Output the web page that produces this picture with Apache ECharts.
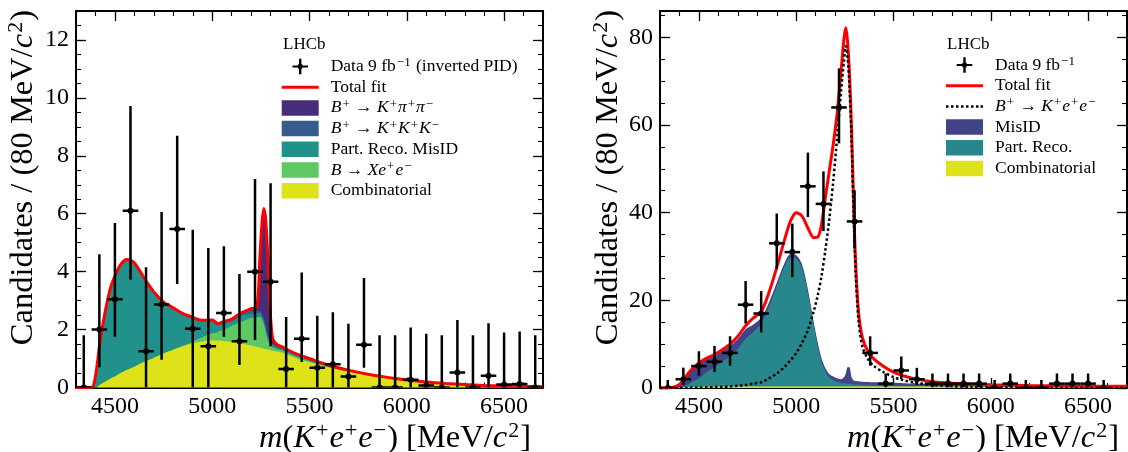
<!DOCTYPE html>
<html>
<head>
<meta charset="utf-8">
<script src="https://cdn.jsdelivr.net/npm/echarts@6.0.0/dist/echarts.min.js"></script>
<style>
  html, body { margin: 0; padding: 0; background: #fff; }
  #chart { width: 1128px; height: 452px; }
</style>
</head>
<body>
<div id="chart"></div>
<script>
// B+ -> K+ e+ e- mass fits, inverted PID (left) and signal sample (right)

var FONT = "'Liberation Serif', 'DejaVu Serif', serif";

// data points, 80 MeV bins
var binCenters = [4340, 4420, 4500, 4580, 4660, 4740, 4820, 4900, 4980, 5060, 5140, 5220, 5300, 5380, 5460,
                  5540, 5620, 5700, 5780, 5860, 5940, 6020, 6100, 6180, 6260, 6340, 6420, 6500, 6580, 6660];
var binWidth = 80;

// left: inverted PID sample
var dataL = [0, 2.0, 3.05, 6.1, 1.25, 2.87, 5.47, 2.03, 1.42, 2.57, 1.6, 4.0, 3.65, 0.64, 1.68,
             0.68, 0.8, 0.38, 1.48, 0, 0, 0.27, 0.07, 0, 0.52, 0, 0.41, 0.1, 0.12, 0];
var hiL = [1.8, 4.6, 5.68, 9.72, 4.15, 6.06, 8.69, 5.45, 4.82, 4.88, 3.92, 7.2, 7.05, 2.43, 3.97,
           2.48, 2.6, 2.2, 3.78, 1.8, 1.8, 2.07, 1.86, 1.8, 2.33, 1.8, 2.22, 1.9, 1.93, 1.8];
var loL = [0, 0.7, 1.75, 3.72, 0, 0.96, 3.57, 0, 0, 1.75, 0.78, 1.64, 1.42, 0, 0.88,
           0, 0, 0, 0.68, 0, 0, 0, 0, 0, 0, 0, 0, 0, 0, 0];

// left: fit components
var massL = [4300, 4380, 4400, 4420, 4440, 4460, 4480, 4500, 4530, 4560, 4600, 4650, 4700, 4750, 4800, 4850,
             4900, 4950, 5000, 5030, 5060, 5100, 5150, 5200, 5230, 5245, 5255, 5265, 5275, 5285, 5295, 5310,
             5330, 5360, 5400, 5450, 5500, 5600, 5700, 5800, 5900, 6000, 6100, 6200, 6300, 6400, 6500, 6600, 6700];
var totalL = [0, 0, 0.4, 1.4, 2.25, 2.95, 3.5, 3.85, 4.25, 4.42, 4.3, 3.78, 3.3, 2.95, 2.75, 2.55,
              2.42, 2.32, 2.33, 2.2, 2.28, 2.36, 2.58, 2.72, 2.8, 4.5, 5.6, 6.18, 5.8, 4.6, 3.0, 1.7,
              1.5, 1.4, 1.26, 1.12, 1.0, 0.77, 0.6, 0.46, 0.35, 0.26, 0.19, 0.14, 0.1, 0.07, 0.05, 0.035, 0.025];
var combL = [0, 0, 0, 0.08, 0.16, 0.24, 0.32, 0.38, 0.5, 0.6, 0.72, 0.88, 1.02, 1.17, 1.3, 1.43,
             1.53, 1.59, 1.62, 1.62, 1.6, 1.58, 1.52, 1.45, 1.4, 1.38, 1.36, 1.34, 1.33, 1.31, 1.3, 1.27,
             1.24, 1.2, 1.09, 0.97, 0.87, 0.68, 0.54, 0.42, 0.33, 0.25, 0.18, 0.13, 0.095, 0.065, 0.047, 0.033, 0.023];
var xeeL = [0, 0, 0, 0, 0, 0, 0, 0, 0, 0, 0, 0, 0, 0, 0, 0,
            0.05, 0.15, 0.25, 0.3, 0.4, 0.55, 0.75, 0.95, 1.02, 1.05, 1.0, 0.85, 0.6, 0.35, 0.2, 0.12,
            0.09, 0.07, 0.06, 0.05, 0.04, 0.03, 0.02, 0.015, 0.01, 0.005, 0, 0, 0, 0, 0, 0, 0];
var prMisIdL = [0, 0, 0.4, 1.32, 2.09, 2.71, 3.18, 3.47, 3.75, 3.82, 3.58, 2.9, 2.28, 1.78, 1.45, 1.12,
                0.84, 0.57, 0.43, 0.24, 0.22, 0.15, 0.21, 0.15, 0.14, 0.13, 0.13, 0.12, 0.11, 0.1, 0.09, 0.08,
                0.07, 0.06, 0.05, 0.04, 0.03, 0.02, 0.015, 0.01, 0.005, 0, 0, 0, 0, 0, 0, 0, 0];
var kkkL = [0, 0, 0, 0, 0, 0, 0, 0, 0, 0, 0, 0, 0, 0, 0, 0,
            0, 0.01, 0.03, 0.04, 0.06, 0.08, 0.1, 0.11, 0.1, 0.08, 0.08, 0.08, 0.08, 0.08, 0.07, 0.05,
            0.05, 0.04, 0.04, 0.04, 0.03, 0.02, 0.015, 0.01, 0.005, 0, 0, 0, 0, 0, 0, 0, 0];
var kpipiL = [0, 0, 0, 0, 0, 0, 0, 0, 0, 0, 0, 0, 0, 0, 0, 0,
              0, 0, 0, 0, 0, 0, 0, 0.06, 0.14, 1.86, 3.03, 3.79, 3.68, 2.76, 1.34, 0.18,
              0.05, 0.03, 0.02, 0.02, 0.02, 0.01, 0.01, 0.005, 0, 0, 0, 0, 0, 0, 0, 0, 0];

// right: signal sample
var dataR = [0, 2, 5, 6, 8, 19, 17, 33, 31, 46, 42, 64, 38, 8, 1,
             4, 2, 1, 1, 1, 1, 0, 1, 0, 0, 1, 1, 1, 0, 0];
var hiR = [1.84, 4.64, 8.38, 9.58, 11.8, 24.4, 22.1, 39.8, 37.5, 53.7, 49.4, 72.9, 45.1, 11.8, 3.3,
           7.2, 4.6, 3.3, 3.3, 3.3, 3.3, 1.84, 3.3, 1.84, 1.84, 3.3, 3.3, 3.3, 1.84, 0];
var loR = [0, 0.71, 2.84, 3.62, 5.1, 14.7, 12.7, 27.2, 25.3, 39.0, 35.8, 55.8, 31.8, 5.1, 0.17,
           2.0, 0.71, 0.17, 0.17, 0.17, 0.17, 0, 0.17, 0, 0, 0.17, 0.17, 0.17, 0, 0];

var massR = [4300, 4360, 4400, 4420, 4460, 4500, 4540, 4580, 4620, 4660, 4700, 4740, 4780, 4820, 4860, 4900,
             4940, 4970, 5000, 5030, 5060, 5090, 5110, 5130, 5150, 5170, 5190, 5210, 5230, 5245, 5255, 5265,
             5275, 5285, 5295, 5305, 5320, 5340, 5370, 5400, 5450, 5500, 5550, 5600, 5700, 5800, 5900, 6000,
             6200, 6400, 6600, 6700];
var totalR = [0, 0.1, 0.8, 1.9, 4.1, 5.7, 6.8, 7.6, 8.7, 10.0, 11.8, 14.2, 16.0, 17.4, 21.8, 27.5,
              33.8, 38.0, 40.0, 39.2, 36.5, 34.3, 34.4, 37.3, 43.5, 49.5, 55.5, 62.5, 72.0, 79.5, 82.2, 78.5,
              70.5, 58.3, 42.0, 29.0, 17.5, 11.5, 8.2, 6.6, 4.9, 3.6, 2.8, 2.2, 1.45, 1.1, 0.9, 0.75,
              0.55, 0.45, 0.4, 0.4];
var signalR = [0, 0, 0, 0, 0.05, 0.1, 0.15, 0.2, 0.25, 0.35, 0.5, 0.7, 1.0, 1.3, 2.2, 3.3,
               4.8, 6.3, 8.0, 10.3, 13.2, 17.5, 21.0, 25.5, 31.5, 38.5, 47.0, 57.0, 67.5, 74.5, 78.0, 75.0,
               67.5, 56.0, 40.0, 27.0, 15.5, 9.5, 6.5, 5.0, 3.6, 2.5, 1.8, 1.3, 0.7, 0.4, 0.25, 0.15,
               0.07, 0.03, 0.01, 0];
var combR = [0, 0, 0.1, 0.2, 0.25, 0.3, 0.32, 0.33, 0.34, 0.35, 0.35, 0.35, 0.35, 0.35, 0.35, 0.35,
             0.35, 0.35, 0.36, 0.36, 0.36, 0.36, 0.36, 0.37, 0.37, 0.37, 0.37, 0.37, 0.37, 0.37, 0.37, 0.37,
             0.37, 0.37, 0.37, 0.37, 0.37, 0.37, 0.37, 0.37, 0.37, 0.37, 0.36, 0.36, 0.35, 0.34, 0.33, 0.32,
             0.3, 0.28, 0.26, 0.25];
var partRecoR = [0, 0, 0, 0.1, 0.95, 1.9, 3.28, 4.47, 5.66, 6.95, 8.55, 10.95, 12.45, 14.35, 18.15, 22.8,
                 27.35, 29.35, 29.14, 27.04, 21.34, 13.84, 9.34, 5.63, 3.33, 2.03, 1.43, 1.03, 0.78, 0.7, 0.65, 0.6,
                 0.55, 0.5, 0.45, 0.4, 0.35, 0.3, 0.25, 0.2, 0.15, 0.1, 0.08, 0.06, 0.04, 0.03, 0.02, 0.01,
                 0, 0, 0, 0];
var misIdR = [0, 0.1, 0.7, 1.6, 2.8, 3.3, 3.0, 2.6, 2.4, 2.3, 2.3, 2.1, 1.7, 1.3, 1.0, 0.85,
              0.8, 0.8, 0.8, 0.8, 0.8, 0.8, 0.8, 0.8, 0.8, 0.8, 0.8, 0.8, 0.85, 1.3, 2.3, 3.8,
              3.7, 1.5, 0.9, 0.8, 0.8, 0.78, 0.76, 0.74, 0.72, 0.7, 0.66, 0.6, 0.52, 0.43, 0.35, 0.28,
              0.18, 0.12, 0.09, 0.08];

// axis ticks
var xMajor = [4500, 5000, 5500, 6000, 6500];
var yMajorL = [0, 2, 4, 6, 8, 10, 12];
var yMajorR = [0, 20, 40, 60, 80];

var colors = {
    red: '#ff0000',
    kpipi: '#472c7a',
    kkk: '#365c8d',
    prMisId: '#21918c',
    xee: '#5ec962',
    comb: '#dde318',
    misId: '#414487',
    partReco: '#28878c'
};

var legendText = {
    L_data: 'Data 9 fb{s|−1} (inverted PID)',
    L_total: 'Total fit',
    L_kpipi: '{i|B}{s|+} → {i|K}{s|+}{i|π}{s|+}{i|π}{s|−}',
    L_kkk: '{i|B}{s|+} → {i|K}{s|+}{i|K}{s|+}{i|K}{s|−}',
    L_prMisId: 'Part. Reco. MisID',
    L_xee: '{i|B} → {i|Xe}{s|+}{i|e}{s|−}',
    L_comb: 'Combinatorial',
    R_data: 'Data 9 fb{s|−1}',
    R_total: 'Total fit',
    R_signal: '{i|B}{s|+} → {i|K}{s|+}{i|e}{s|+}{i|e}{s|−}',
    R_misId: 'MisID',
    R_partReco: 'Part. Reco.',
    R_comb: 'Combinatorial'
};

function pairs(xs, ys) {
    return xs.map(function (x, i) { return [x, ys[i]]; });
}

// running sums of the components, bottom layer first
function cumulative(layers) {
    var run = layers[0].map(function () { return 0; });
    return layers.map(function (arr) {
        run = run.map(function (v, i) { return v + arr[i]; });
        return run.slice();
    });
}

function errorBars(vals, lo, hi) {
    return binCenters.map(function (x, i) { return [x, vals[i], lo[i], hi[i]]; });
}

function renderErrorBar(params, api) {
    var x = api.value(0), y = api.value(1), lo = api.value(2), hi = api.value(3);
    if (!(hi > 0)) return null;
    var top = api.coord([x, hi]), bot = api.coord([x, lo]);
    var l = api.coord([x - binWidth / 2, y]), r = api.coord([x + binWidth / 2, y]);
    var c = api.coord([x, y]);
    var st = { stroke: '#000', lineWidth: 2.5 };
    return {
        type: 'group',
        children: [
            { type: 'line', shape: { x1: top[0], y1: top[1], x2: bot[0], y2: bot[1] }, style: st },
            { type: 'line', shape: { x1: l[0], y1: l[1], x2: r[0], y2: r[1] }, style: st },
            { type: 'circle', shape: { cx: c[0], cy: c[1], r: 3 }, style: { fill: '#000' } }
        ]
    };
}

// one side of the frame: long ticks + labels, and a second axis for the short ticks
function frameSide(gridIndex, pos, min, max, major, minorStep, labels) {
    var main = {
        type: 'value', gridIndex: gridIndex, position: pos, min: min, max: max,
        axisLine: { show: true, onZero: false, lineStyle: { color: '#000', width: 2 } },
        axisTick: { show: true, inside: true, length: 10, customValues: major, lineStyle: { color: '#000', width: 1.3 } },
        axisLabel: {
            show: labels, customValues: major, color: '#000', fontFamily: FONT, fontSize: 24, margin: 7,
            formatter: function (v) { return String(v); }
        },
        splitLine: { show: false }
    };
    var minor = {
        type: 'value', gridIndex: gridIndex, position: pos, min: min, max: max, interval: minorStep,
        axisLine: { show: false, onZero: false },
        axisTick: { show: true, inside: true, length: 5, lineStyle: { color: '#000', width: 1.1 } },
        axisLabel: { show: false },
        splitLine: { show: false }
    };
    return [main, minor];
}

function areaSeries(name, axisIndex, xs, ys, color) {
    return {
        name: name, type: 'line', xAxisIndex: axisIndex, yAxisIndex: axisIndex,
        data: pairs(xs, ys), color: color, symbol: 'none', smooth: 0.3,
        lineStyle: { width: 0 }, areaStyle: { color: color, opacity: 1 }, z: 2, silent: true
    };
}

var supRich = {
    i: { fontFamily: FONT, fontSize: 17.5, fontStyle: 'italic', color: '#000', lineHeight: 20 },
    s: { fontFamily: FONT, fontSize: 13, color: '#000', lineHeight: 12, verticalAlign: 'top', padding: [0, 1, 0, 1] }
};

var crossIcon = 'path://M0,7.8 L18,7.8 L18,10.2 L0,10.2 Z M7.6,0 L10.4,0 L10.4,18 L7.6,18 Z M6.5,6.5 L11.5,6.5 L11.5,11.5 L6.5,11.5 Z';
var lineIcon = 'path://M0,0 L37,0 L37,3 L0,3 Z';
var dotIcon = 'path://M0,0 L2.5,0 L2.5,2.5 L0,2.5 Z M5,0 L7.5,0 L7.5,2.5 L5,2.5 Z M10,0 L12.5,0 L12.5,2.5 L10,2.5 Z ' +
    'M15,0 L17.5,0 L17.5,2.5 L15,2.5 Z M20,0 L22.5,0 L22.5,2.5 L20,2.5 Z M25,0 L27.5,0 L27.5,2.5 L25,2.5 Z ' +
    'M30,0 L32.5,0 L32.5,2.5 L30,2.5 Z M34.5,0 L37,0 L37,2.5 L34.5,2.5 Z';

function legendBox(left, top, items) {
    return {
        orient: 'vertical', left: left, top: top, padding: 0,
        itemWidth: 37, itemHeight: 15.5, itemGap: 0.7, selectedMode: false,
        formatter: function (name) { return legendText[name]; },
        textStyle: { fontFamily: FONT, fontSize: 17.5, color: '#000', lineHeight: 20, padding: [0, 0, 0, 7], rich: supRich },
        data: items
    };
}

var titleRich = {
    i: { fontFamily: FONT, fontSize: 32.5, fontStyle: 'italic', fill: '#000', lineHeight: 36 },
    s: { fontFamily: FONT, fontSize: 22, fill: '#000', lineHeight: 20, verticalAlign: 'top', padding: [0, 1, 0, 1] }
};
var yTitle = 'Candidates / (80 MeV/{i|c}{s|2})';
var xTitle = '{i|m}({i|K}{s|+}{i|e}{s|+}{i|e}{s|−}) [MeV/{i|c}{s|2}]';

function titleText(x, y, text, rotation) {
    return {
        type: 'text', x: x, y: y, rotation: rotation, silent: true,
        style: {
            text: text, fill: '#000', fontFamily: FONT, fontSize: 32.5, lineHeight: 36,
            align: 'right', verticalAlign: 'middle', rich: titleRich
        }
    };
}

function lhcbText(x, y) {
    return { type: 'text', x: x, y: y, silent: true,
        style: { text: 'LHCb', fill: '#000', fontFamily: FONT, fontSize: 17, align: 'left', verticalAlign: 'middle' } };
}

// stacked layers: each area is drawn from zero to its running sum, top layer first
var stackL = cumulative([combL, xeeL, prMisIdL, kkkL, kpipiL]);
var stackR = cumulative([combR, partRecoR, misIdR]);

var myChart = echarts.init(document.getElementById('chart'), null, { renderer: 'canvas' });

var option = {
    animation: false,
    backgroundColor: '#fff',
    grid: [
        { left: 76, top: 11, width: 467, height: 376.5, outerBoundsMode: 'none' },
        { left: 660, top: 11, width: 467, height: 377, outerBoundsMode: 'none' }
    ],
    xAxis: [].concat(
        frameSide(0, 'bottom', 4300, 6700, xMajor, 100, true),
        frameSide(0, 'top', 4300, 6700, xMajor, 100, false),
        frameSide(1, 'bottom', 4300, 6700, xMajor, 100, true),
        frameSide(1, 'top', 4300, 6700, xMajor, 100, false)
    ),
    yAxis: [].concat(
        frameSide(0, 'left', 0, 13, yMajorL, 0.5, true),
        frameSide(0, 'right', 0, 13, yMajorL, 0.5, false),
        frameSide(1, 'left', 0, 86, yMajorR, 5, true),
        frameSide(1, 'right', 0, 86, yMajorR, 5, false)
    ),
    legend: [
        legendBox(281.7, 56.5, [
            { name: 'L_data', icon: crossIcon, itemStyle: { color: '#000', borderWidth: 0 } },
            { name: 'L_total', icon: lineIcon, itemStyle: { color: colors.red, borderWidth: 0 } },
            { name: 'L_kpipi', icon: 'rect', itemStyle: { color: colors.kpipi, borderWidth: 0 } },
            { name: 'L_kkk', icon: 'rect', itemStyle: { color: colors.kkk, borderWidth: 0 } },
            { name: 'L_prMisId', icon: 'rect', itemStyle: { color: colors.prMisId, borderWidth: 0 } },
            { name: 'L_xee', icon: 'rect', itemStyle: { color: colors.xee, borderWidth: 0 } },
            { name: 'L_comb', icon: 'rect', itemStyle: { color: colors.comb, borderWidth: 0 } }
        ]),
        legendBox(946, 55, [
            { name: 'R_data', icon: crossIcon, itemStyle: { color: '#000', borderWidth: 0 } },
            { name: 'R_total', icon: lineIcon, itemStyle: { color: colors.red, borderWidth: 0 } },
            { name: 'R_signal', icon: dotIcon, itemStyle: { color: '#000', borderWidth: 0 } },
            { name: 'R_misId', icon: 'rect', itemStyle: { color: colors.misId, borderWidth: 0 } },
            { name: 'R_partReco', icon: 'rect', itemStyle: { color: colors.partReco, borderWidth: 0 } },
            { name: 'R_comb', icon: 'rect', itemStyle: { color: colors.comb, borderWidth: 0 } }
        ])
    ],
    graphic: [
        titleText(23.3, 10, yTitle, Math.PI / 2),
        titleText(608, 10, yTitle, Math.PI / 2),
        titleText(531, 438, xTitle, 0),
        titleText(1119, 438, xTitle, 0),
        lhcbText(283, 45),
        lhcbText(947, 45)
    ],
    series: [
        // left panel
        areaSeries('L_kpipi', 0, massL, stackL[4], colors.kpipi),
        areaSeries('L_kkk', 0, massL, stackL[3], colors.kkk),
        areaSeries('L_prMisId', 0, massL, stackL[2], colors.prMisId),
        areaSeries('L_xee', 0, massL, stackL[1], colors.xee),
        areaSeries('L_comb', 0, massL, stackL[0], colors.comb),
        {
            name: 'L_total', type: 'line', xAxisIndex: 0, yAxisIndex: 0, data: pairs(massL, totalL),
            color: colors.red, symbol: 'none', smooth: 0.3, lineStyle: { width: 3, color: colors.red }, z: 3, silent: true
        },
        {
            name: 'L_data', type: 'custom', xAxisIndex: 0, yAxisIndex: 0, data: errorBars(dataL, loL, hiL),
            renderItem: renderErrorBar, encode: { x: 0, y: 1 }, color: '#000', z: 5, clip: true, silent: true
        },

        // right panel
        areaSeries('R_misId', 4, massR, stackR[2], colors.misId),
        areaSeries('R_partReco', 4, massR, stackR[1], colors.partReco),
        areaSeries('R_comb', 4, massR, stackR[0], colors.comb),
        {
            name: 'R_total', type: 'line', xAxisIndex: 4, yAxisIndex: 4, data: pairs(massR, totalR),
            color: colors.red, symbol: 'none', smooth: 0.3, lineStyle: { width: 3, color: colors.red }, z: 3, silent: true
        },
        {
            name: 'R_signal', type: 'line', xAxisIndex: 4, yAxisIndex: 4, data: pairs(massR, signalR),
            color: '#000', symbol: 'none', smooth: 0.3, lineStyle: { width: 2.5, color: '#000', type: 'dotted' }, z: 4, silent: true
        },
        {
            name: 'R_data', type: 'custom', xAxisIndex: 4, yAxisIndex: 4, data: errorBars(dataR, loR, hiR),
            renderItem: renderErrorBar, encode: { x: 0, y: 1 }, color: '#000', z: 5, clip: true, silent: true
        }
    ]
};

myChart.setOption(option);
</script>
</body>
</html>
